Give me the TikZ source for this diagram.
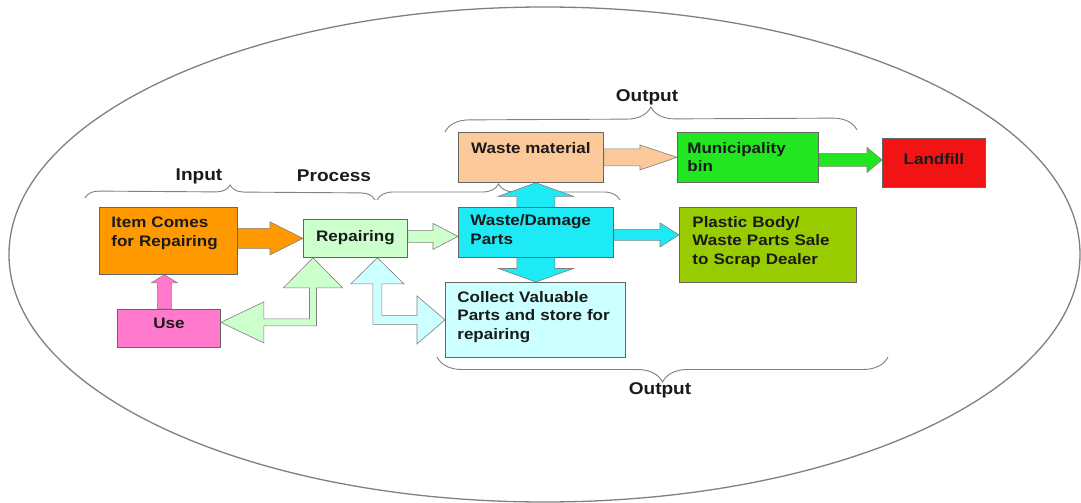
\documentclass[tikz,border=0pt]{standalone}
\usepackage{fontspec}
\setmainfont{Liberation Sans}[FakeStretch=1.12]
\usetikzlibrary{calc,decorations.pathreplacing}
\definecolor{ink}{HTML}{1A1A1A}
\definecolor{rimgray}{HTML}{808080}
\definecolor{boxline}{HTML}{666666}
\definecolor{orng}{HTML}{FF9900}
\definecolor{mint}{HTML}{CCFFCC}
\definecolor{rose}{HTML}{FF7ACC}
\definecolor{aqua}{HTML}{1EEAF5}
\definecolor{pale}{HTML}{CCFFFF}
\definecolor{peach}{HTML}{FCC99A}
\definecolor{lime}{HTML}{22E622}
\definecolor{brick}{HTML}{F21414}
\definecolor{moss}{HTML}{99CC00}
\pgfdeclarelayer{bg}
\pgfsetlayers{bg,main}
\tikzset{box/.style={draw=boxline,line width=0.8pt,anchor=north west,inner xsep=12pt,inner ysep=0pt,text=ink,font=\bfseries\fontsize{15.2}{18.7}\selectfont},blk/.style={draw=black!50,line width=0.6pt},brc/.style={draw=rimgray,line width=0.9pt,decorate,decoration={brace,amplitude=#1}},brc/.default=14pt,lbl/.style={text=ink,font=\bfseries\fontsize{17}{20}\selectfont}}
% block arrows: style, tail, tip, shaft half width, head half width, head length
\newcommand{\harrow}[6]{\path[#1] let \p1=(#2), \p2=(#3) in
  (\x1,{\y2+#4}) -- ({\x2-#6},{\y2+#4}) -- ({\x2-#6},{\y2+#5}) -- (\x2,\y2)
  -- ({\x2-#6},{\y2-#5}) -- ({\x2-#6},{\y2-#4}) -- (\x1,{\y2-#4}) -- cycle;}
\newcommand{\varrow}[6]{\path[#1] let \p1=(#2), \p2=(#3) in
  ({\x2-#4},\y1) -- ({\x2-#4},{\y2-#6}) -- ({\x2-#5},{\y2-#6}) -- (\x2,\y2)
  -- ({\x2+#5},{\y2-#6}) -- ({\x2+#4},{\y2-#6}) -- ({\x2+#4},\y1) -- cycle;}
% up-down arrow: style, lower tip, upper tip, shaft, head, head length
\newcommand{\udarrow}[6]{\path[#1] let \p1=(#2), \p2=(#3) in
  (\x2,\y2) -- ({\x2+#5},{\y2-#6}) -- ({\x2+#4},{\y2-#6}) -- ({\x2+#4},{\y1+#6})
  -- ({\x2+#5},{\y1+#6}) -- (\x2,\y1) -- ({\x2-#5},{\y1+#6}) -- ({\x2-#4},{\y1+#6})
  -- ({\x2-#4},{\y2-#6}) -- ({\x2-#5},{\y2-#6}) -- cycle;}
% bent double arrow: style, side tip, up tip, side (-1 left, 1 right), shaft,
% side head half width, side head length, up head half width, up head length
\newcommand{\bentarrow}[9]{\path[#1] let \p1=(#2), \p2=(#3) in
  (\x1,\y1) -- ({\x1-(#4)*#7},{\y1+#6}) -- ({\x1-(#4)*#7},{\y1+#5})
  -- ({\x2+(#4)*#5},{\y1+#5}) -- ({\x2+(#4)*#5},{\y2-#9}) -- ({\x2+(#4)*#8},{\y2-#9})
  -- (\x2,\y2) -- ({\x2-(#4)*#8},{\y2-#9}) -- ({\x2-(#4)*#5},{\y2-#9})
  -- ({\x2-(#4)*#5},{\y1-#5}) -- ({\x1-(#4)*#7},{\y1-#5}) -- ({\x1-(#4)*#7},{\y1-#6}) -- cycle;}
\begin{document}
\begin{tikzpicture}[x=1pt,y=-1pt]
\useasboundingbox (0,0) rectangle (1081,503);
\begin{pgfonlayer}{bg}
\fill[white] (0,0) rectangle (1081,503);
\draw[rimgray,line width=1.3pt] (544.5,254.5) ellipse [x radius=535.5,y radius=247.5];
% stage braces
\draw[brc=14pt] (85,198) -- (375,200);
\draw[brc=16pt] (377,200) -- (620,200);
\draw[brc=24pt] (445,132) -- (857,130);
\draw[brc=25pt] (888,357) -- (437,357);
\end{pgfonlayer}
\node[lbl] (input) at (199,176) {Input};
\node[lbl] (process) at (334,176) {Process};
\node[lbl] (outtop) at (647,97) {Output};
\node[lbl] (outbot) at (660,390) {Output};
% boxes (text height = top edge to first baseline)
\node[box,fill=orng,minimum width=138pt,text height=20pt,text depth=47pt,text width=114pt,align=left,inner xsep=11pt] (item) at (99,207) {Item Comes\\for Repairing};
\node[box,fill=mint,minimum width=104pt,text height=22pt,text depth=16pt] (rep) at (303,219) {Repairing};
\node[box,fill=rose,minimum width=103pt,text height=19pt,text depth=19pt] (use) at (117,309) {Use};
\node[box,fill=peach,minimum width=145pt,text height=21pt,text depth=29pt] (waste) at (458,132) {Waste material};
\node[box,fill=aqua,minimum width=155pt,text height=18pt,text depth=32pt,text width=131pt,align=left] (dmg) at (458,207) {Waste/Damage\\Parts};
\node[box,fill=pale,minimum width=180pt,text height=19.7pt,text depth=55.3pt,text width=156pt,align=left] (collect) at (445,282) {Collect Valuable\\Parts and store for\\repairing};
\node[box,fill=lime,minimum width=141pt,text height=20.7pt,text depth=29.3pt,text width=121pt,align=left,inner xsep=10pt] (muni) at (677,132) {Municipality\\bin};
\node[box,fill=brick,minimum width=103pt,text height=26pt,text depth=23pt] (landfill) at (882,138) {Landfill};
\node[box,fill=moss,minimum width=177pt,text height=19.7pt,text depth=55.3pt,text width=151pt,align=left,inner xsep=13pt] (plastic) at (679,207) {Plastic Body/\\Waste Parts Sale\\to Scrap Dealer};
% arrows behind the boxes
\begin{pgfonlayer}{bg}
\harrow{blk,fill=orng}{item.east}{rep.west}{10pt}{16.5pt}{33pt}
\harrow{blk,fill=mint}{rep.east}{$(dmg.west)+(0,4)$}{6pt}{13pt}{25pt}
\harrow{blk,fill=aqua}{dmg.east}{$(plastic.west)+(0,-10)$}{5.5pt}{12pt}{19pt}
\harrow{blk,fill=peach}{waste.east}{muni.west}{8.5pt}{12.5pt}{37pt}
\harrow{blk,fill=lime}{muni.east}{$(landfill.west)+(0,-3)$}{6.5pt}{12.5pt}{15pt}
\varrow{blk,fill=rose}{$(use.north)+(-4,0)$}{$(item.south)+(-4,0)$}{7pt}{13pt}{8pt}
\udarrow{blk,fill=aqua}{dmg.center |- collect.north}{dmg.center |- waste.south}{19pt}{37.5pt}{13.5pt}
\bentarrow{blk,fill=mint}{$(use.east)+(0,-6)$}{$(rep.south west)+(10,0)$}{-1}{3.5pt}{20.5pt}{43pt}{29.5pt}{30pt}
\bentarrow{blk,fill=pale}{collect.west}{$(rep.south)+(22,0)$}{1}{4.5pt}{24pt}{28pt}{26.5pt}{26pt}
\end{pgfonlayer}
\end{tikzpicture}
\end{document}
